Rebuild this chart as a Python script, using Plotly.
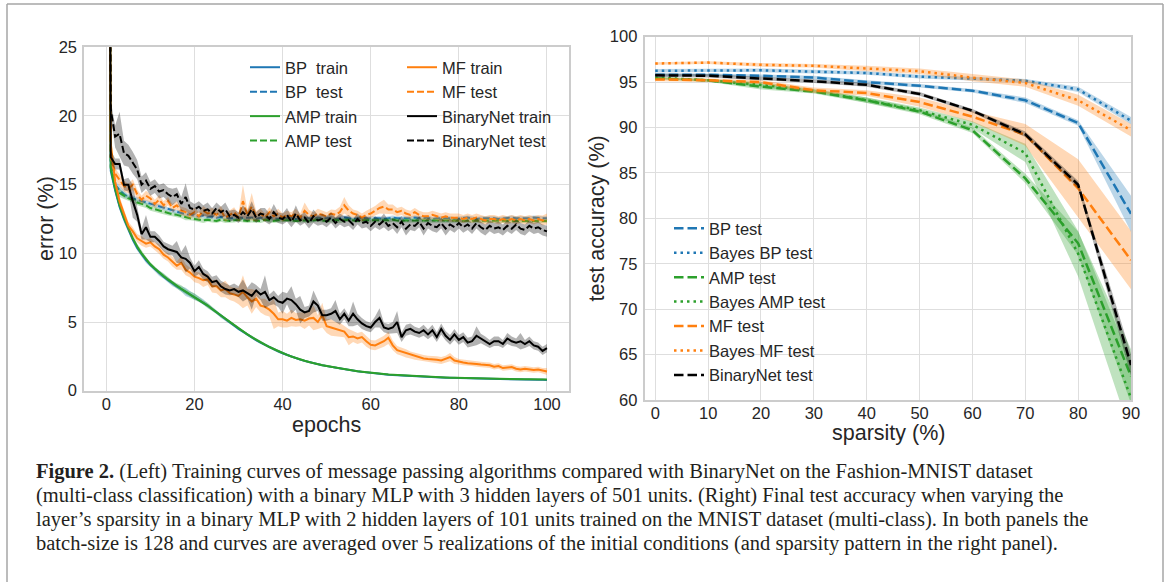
import plotly.graph_objects as go

# ---------------- Left panel data (epochs 0..100) ----------------
epochs = list(range(0, 101))

bp_train = [90.0,
    16.0, 14.6, 13.4, 12.5, 11.7, 11.0, 10.4, 9.9, 9.5, 9.15,
    8.85, 8.55, 8.3, 8.05, 7.8, 7.6, 7.4, 7.2, 7.0, 6.85,
    6.65, 6.45, 6.2, 5.95, 5.7, 5.45, 5.2, 4.95, 4.75, 4.5,
    4.3, 4.08, 3.88, 3.68, 3.5, 3.33, 3.17, 3.02, 2.87, 2.73,
    2.6, 2.48, 2.36, 2.26, 2.17, 2.08, 1.99, 1.92, 1.85, 1.79,
    1.73, 1.67, 1.61, 1.56, 1.5, 1.45, 1.41, 1.37, 1.33, 1.29,
    1.26, 1.23, 1.2, 1.17, 1.15, 1.13, 1.11, 1.09, 1.07, 1.05,
    1.03, 1.02, 1.0, 0.99, 0.97, 0.96, 0.95, 0.94, 0.93, 0.92,
    0.91, 0.9, 0.89, 0.88, 0.88, 0.87, 0.86, 0.85, 0.85, 0.84,
    0.83, 0.83, 0.82, 0.81, 0.81, 0.8, 0.8, 0.79, 0.79, 0.78]
bp_train_sd = [0.5,
    0.3, 0.3, 0.25, 0.25, 0.2, 0.2, 0.2, 0.15, 0.2, 0.15,
    0.15, 0.2, 0.15, 0.15, 0.2, 0.15, 0.2, 0.3, 0.25, 0.2,
    0.15, 0.2, 0.15, 0.15, 0.1, 0.15, 0.1, 0.1, 0.1, 0.1,
    0.1, 0.1, 0.1, 0.1, 0.1, 0.1, 0.1, 0.1, 0.1, 0.1,
    0.08, 0.08, 0.08, 0.08, 0.08, 0.08, 0.08, 0.08, 0.08, 0.08,
    0.06, 0.06, 0.06, 0.06, 0.06, 0.06, 0.06, 0.06, 0.06, 0.06,
    0.05, 0.05, 0.05, 0.05, 0.05, 0.05, 0.05, 0.05, 0.05, 0.05,
    0.05, 0.05, 0.05, 0.05, 0.05, 0.05, 0.05, 0.05, 0.05, 0.05,
    0.04, 0.04, 0.04, 0.04, 0.04, 0.04, 0.04, 0.04, 0.04, 0.04,
    0.04, 0.04, 0.04, 0.04, 0.04, 0.04, 0.04, 0.04, 0.04, 0.04]

amp_train = [90.0,
    16.2, 14.7, 13.5, 12.6, 11.8, 11.1, 10.5, 10.0, 9.6, 9.2,
    8.9, 8.6, 8.35, 8.1, 7.85, 7.62, 7.42, 7.22, 7.02, 6.85,
    6.65, 6.43, 6.2, 5.95, 5.72, 5.47, 5.22, 4.98, 4.76, 4.52,
    4.3, 4.1, 3.9, 3.7, 3.52, 3.35, 3.18, 3.03, 2.88, 2.74,
    2.61, 2.49, 2.37, 2.27, 2.18, 2.09, 2.0, 1.93, 1.86, 1.8,
    1.74, 1.68, 1.62, 1.57, 1.51, 1.46, 1.42, 1.38, 1.34, 1.3,
    1.27, 1.24, 1.21, 1.18, 1.16, 1.14, 1.12, 1.1, 1.08, 1.06,
    1.04, 1.03, 1.01, 1.0, 0.98, 0.97, 0.96, 0.95, 0.94, 0.93,
    0.92, 0.91, 0.9, 0.9, 0.89, 0.88, 0.88, 0.87, 0.86, 0.86,
    0.85, 0.85, 0.84, 0.84, 0.83, 0.83, 0.82, 0.82, 0.81, 0.81]
amp_train_sd = [0.5,
    0.3, 0.3, 0.25, 0.25, 0.2, 0.2, 0.2, 0.2, 0.15, 0.15,
    0.15, 0.15, 0.2, 0.15, 0.15, 0.2, 0.25, 0.2, 0.2, 0.25,
    0.2, 0.15, 0.2, 0.15, 0.15, 0.1, 0.1, 0.1, 0.1, 0.1,
    0.1, 0.1, 0.1, 0.1, 0.1, 0.1, 0.1, 0.1, 0.1, 0.1,
    0.08, 0.08, 0.08, 0.08, 0.08, 0.08, 0.08, 0.08, 0.08, 0.08,
    0.06, 0.06, 0.06, 0.06, 0.06, 0.06, 0.06, 0.06, 0.06, 0.06,
    0.05, 0.05, 0.05, 0.05, 0.05, 0.05, 0.05, 0.05, 0.05, 0.05,
    0.05, 0.05, 0.05, 0.05, 0.05, 0.05, 0.05, 0.05, 0.05, 0.05,
    0.04, 0.04, 0.04, 0.04, 0.04, 0.04, 0.04, 0.04, 0.04, 0.04,
    0.04, 0.04, 0.04, 0.04, 0.04, 0.04, 0.04, 0.04, 0.04, 0.04]

bp_test = [90.0,
    16.5, 15.0, 14.6, 14.3, 14.1, 14.0, 13.9, 13.8, 13.7, 13.6,
    13.5, 13.4, 13.3, 13.2, 13.1, 13.0, 12.95, 12.85, 12.8, 12.75,
    12.7, 12.75, 12.65, 12.7, 12.6, 12.65, 12.6, 12.55, 12.6, 12.6,
    12.6, 12.55, 12.6, 12.5, 12.6, 12.55, 12.6, 12.55, 12.5, 12.6,
    12.55, 12.6, 12.5, 12.55, 12.6, 12.55, 12.5, 12.6, 12.55, 12.55,
    12.6, 12.5, 12.55, 12.6, 12.55, 12.5, 12.55, 12.6, 12.55, 12.55,
    12.6, 12.55, 12.5, 12.55, 12.6, 12.55, 12.55, 12.5, 12.55, 12.6,
    12.55, 12.55, 12.6, 12.5, 12.55, 12.55, 12.6, 12.55, 12.5, 12.55,
    12.55, 12.6, 12.55, 12.5, 12.55, 12.55, 12.6, 12.55, 12.5, 12.55,
    12.55, 12.6, 12.55, 12.55, 12.5, 12.55, 12.6, 12.55, 12.55, 12.55]
bp_test_sd = [0.5,
    0.4, 0.3, 0.3, 0.25, 0.2, 0.2, 0.2, 0.2, 0.2, 0.2,
    0.2, 0.15, 0.15, 0.15, 0.15, 0.15, 0.2, 0.15, 0.15, 0.15,
    0.15, 0.15, 0.2, 0.15, 0.15, 0.15, 0.15, 0.2, 0.15, 0.15,
    0.15, 0.15, 0.15, 0.2, 0.15, 0.15, 0.15, 0.15, 0.15, 0.15,
    0.2, 0.15, 0.15, 0.15, 0.15, 0.15, 0.2, 0.15, 0.15, 0.15,
    0.15, 0.15, 0.15, 0.15, 0.15, 0.15, 0.15, 0.15, 0.15, 0.15,
    0.15, 0.15, 0.15, 0.15, 0.15, 0.15, 0.15, 0.15, 0.15, 0.15,
    0.15, 0.15, 0.15, 0.15, 0.15, 0.15, 0.15, 0.15, 0.15, 0.15,
    0.15, 0.15, 0.15, 0.15, 0.15, 0.15, 0.15, 0.15, 0.15, 0.15,
    0.15, 0.15, 0.15, 0.15, 0.15, 0.15, 0.15, 0.15, 0.15, 0.15]

amp_test = [90.0,
    16.3, 14.8, 14.4, 14.2, 14.0, 13.9, 13.7, 13.6, 13.5, 13.3,
    13.2, 13.1, 13.0, 12.9, 12.85, 12.8, 12.7, 12.6, 12.55, 12.5,
    12.45, 12.4, 12.45, 12.4, 12.35, 12.45, 12.4, 12.35, 12.4, 12.45,
    12.4, 12.35, 12.4, 12.4, 12.35, 12.45, 12.4, 12.35, 12.4, 12.4,
    12.45, 12.4, 12.35, 12.4, 12.4, 12.35, 12.4, 12.45, 12.4, 12.35,
    12.4, 12.4, 12.35, 12.4, 12.45, 12.4, 12.35, 12.4, 12.4, 12.35,
    12.4, 12.4, 12.35, 12.4, 12.45, 12.4, 12.35, 12.4, 12.4, 12.35,
    12.4, 12.35, 12.4, 12.4, 12.35, 12.4, 12.35, 12.4, 12.4, 12.35,
    12.4, 12.35, 12.4, 12.35, 12.4, 12.35, 12.35, 12.4, 12.35, 12.35,
    12.4, 12.35, 12.35, 12.4, 12.35, 12.35, 12.4, 12.35, 12.35, 12.35]
amp_test_sd = [0.5,
    0.4, 0.3, 0.3, 0.25, 0.2, 0.2, 0.2, 0.2, 0.2, 0.2,
    0.2, 0.15, 0.15, 0.15, 0.15, 0.15, 0.15, 0.2, 0.15, 0.15,
    0.15, 0.2, 0.15, 0.15, 0.15, 0.15, 0.2, 0.15, 0.15, 0.15,
    0.15, 0.15, 0.15, 0.15, 0.15, 0.15, 0.15, 0.15, 0.15, 0.15,
    0.15, 0.15, 0.15, 0.15, 0.15, 0.15, 0.15, 0.15, 0.15, 0.15,
    0.15, 0.15, 0.15, 0.15, 0.15, 0.15, 0.15, 0.15, 0.15, 0.15,
    0.15, 0.15, 0.15, 0.15, 0.15, 0.15, 0.15, 0.15, 0.15, 0.15,
    0.15, 0.15, 0.15, 0.15, 0.15, 0.15, 0.15, 0.15, 0.15, 0.15,
    0.15, 0.15, 0.15, 0.15, 0.15, 0.15, 0.15, 0.15, 0.15, 0.15,
    0.15, 0.15, 0.15, 0.15, 0.15, 0.15, 0.15, 0.15, 0.15, 0.15]

mf_train = [90.0,
    18.0, 15.2, 13.8, 12.9, 12.0, 11.6, 11.1, 10.9, 10.7, 10.8,
    10.5, 10.3, 9.9, 9.7, 9.4, 9.1, 9.3, 8.8, 8.6, 8.3,
    8.2, 8.05, 8.1, 7.6, 7.6, 7.3, 7.4, 7.1, 7.0, 6.9,
    7.2, 6.8, 6.5, 6.7, 6.2, 6.1, 5.9, 5.6, 5.2, 5.2,
    5.1, 5.3, 5.15, 5.2, 5.1, 5.25, 5.3, 5.0, 5.5, 4.7,
    4.6, 4.5, 4.45, 4.3, 3.9, 3.95, 3.8, 3.9, 3.6, 3.35,
    3.3, 3.45, 3.6, 3.85, 3.3, 2.95, 2.85, 2.72, 2.6, 2.5,
    2.4, 2.35, 2.3, 2.3, 2.25, 2.2, 2.3, 2.45, 2.2, 2.1,
    2.05, 2.0, 2.0, 1.95, 1.9, 1.87, 1.85, 1.75, 1.8, 1.65,
    1.7, 1.72, 1.6, 1.55, 1.6, 1.55, 1.5, 1.55, 1.45, 1.4]
mf_train_sd = [0.5,
    0.5, 0.4, 0.35, 0.3, 0.3, 0.3, 0.3, 0.35, 0.3, 0.3,
    0.3, 0.35, 0.3, 0.3, 0.35, 0.3, 0.5, 0.4, 0.35, 0.4,
    0.4, 0.5, 0.4, 0.45, 0.5, 0.5, 0.6, 0.5, 0.5, 0.6,
    1.2, 0.6, 0.9, 0.6, 0.5, 0.6, 0.5, 1.1, 0.5, 0.6,
    0.5, 0.6, 0.5, 0.5, 0.6, 0.5, 0.9, 0.5, 0.9, 0.5,
    0.6, 0.5, 0.5, 0.4, 0.6, 0.4, 0.4, 0.4, 0.4, 0.35,
    0.35, 0.35, 0.4, 0.45, 0.35, 0.3, 0.3, 0.3, 0.25, 0.25,
    0.25, 0.25, 0.25, 0.25, 0.25, 0.25, 0.25, 0.3, 0.25, 0.2,
    0.2, 0.2, 0.2, 0.2, 0.2, 0.2, 0.2, 0.2, 0.2, 0.2,
    0.2, 0.2, 0.2, 0.2, 0.2, 0.2, 0.2, 0.2, 0.2, 0.25]

mf_test = [90.0,
    17.0, 15.8, 15.3, 14.9, 14.7, 15.0, 14.3, 13.9, 14.2, 14.0,
    13.6, 13.9, 13.5, 13.8, 13.3, 13.5, 13.1, 13.0, 12.8, 13.0,
    12.7, 13.1, 12.9, 13.0, 12.8, 13.1, 12.6, 12.8, 13.0, 12.6,
    13.8, 12.8, 13.4, 12.7, 12.9, 12.6, 13.0, 12.7, 12.9, 12.6,
    12.8, 12.7, 12.9, 12.6, 13.1, 12.8, 12.7, 12.9, 12.8, 12.7,
    12.9, 12.8, 13.0, 13.5, 13.1, 12.9, 12.8, 12.6, 12.8, 12.9,
    13.1, 13.3, 13.4, 13.2, 13.2, 13.0, 13.1, 12.9, 12.8, 13.0,
    12.8, 12.7, 12.7, 12.8, 12.7, 12.6, 12.7, 12.6, 12.6, 12.6,
    12.5, 12.6, 12.5, 12.6, 12.5, 12.4, 12.5, 12.5, 12.4, 12.5,
    12.4, 12.5, 12.4, 12.5, 12.4, 12.5, 12.4, 12.5, 12.4, 12.5]
mf_test_sd = [0.5,
    0.5, 0.4, 0.4, 0.4, 0.35, 0.4, 0.35, 0.3, 0.35, 0.3,
    0.3, 0.35, 0.3, 0.3, 0.3, 0.3, 0.3, 0.3, 0.3, 0.3,
    0.3, 0.35, 0.3, 0.3, 0.3, 0.35, 0.3, 0.3, 0.35, 0.3,
    1.2, 0.4, 1.0, 0.4, 0.35, 0.3, 0.35, 0.3, 0.35, 0.3,
    0.3, 0.3, 0.35, 0.3, 0.6, 0.35, 0.3, 0.35, 0.3, 0.3,
    0.3, 0.35, 0.4, 0.6, 0.4, 0.3, 0.3, 0.3, 0.3, 0.35,
    0.35, 0.4, 0.5, 0.35, 0.35, 0.3, 0.3, 0.3, 0.3, 0.3,
    0.3, 0.3, 0.3, 0.3, 0.3, 0.3, 0.3, 0.3, 0.3, 0.3,
    0.3, 0.3, 0.3, 0.3, 0.3, 0.3, 0.3, 0.3, 0.3, 0.3,
    0.3, 0.3, 0.3, 0.3, 0.3, 0.3, 0.3, 0.3, 0.35, 0.4]

bn_train = [90.0,
    17.0, 16.5, 16.5, 15.0, 15.0, 13.8, 12.8, 11.4, 11.9, 11.2,
    11.2, 10.9, 10.5, 10.3, 10.2, 10.1, 9.7, 9.6, 9.3, 8.7,
    9.0, 8.5, 8.3, 7.9, 8.0, 7.6, 7.4, 7.3, 7.4, 7.2,
    7.3, 7.1, 6.9, 7.3, 7.0, 7.2, 6.6, 6.8, 6.5, 6.4,
    6.7, 6.6, 6.3, 5.9, 5.7, 5.8, 6.5, 6.2, 5.5, 5.5,
    5.6, 5.8, 5.2, 5.6, 5.1, 5.6, 5.2, 4.9, 4.7, 4.6,
    5.0, 5.3, 4.6, 4.5, 4.6, 5.0, 3.9, 4.4, 4.5, 4.3,
    4.2, 4.4, 4.1, 4.4, 3.9, 4.5, 4.0, 3.7, 4.1, 3.7,
    3.9, 3.5, 3.6, 4.0, 3.8, 3.6, 3.4, 3.6, 3.6, 3.4,
    3.8, 3.6, 3.5, 3.6, 3.4, 3.6, 3.3, 3.2, 2.9, 3.1]
bn_train_sd = [0.5,
    0.5, 0.4, 0.4, 0.4, 0.5, 1.2, 0.5, 0.4, 0.9, 0.4,
    0.4, 0.4, 0.35, 0.4, 0.35, 0.8, 0.4, 1.0, 0.4, 0.4,
    0.5, 0.4, 0.4, 0.4, 0.4, 0.4, 0.4, 0.35, 0.4, 0.4,
    0.8, 0.4, 1.0, 0.4, 0.4, 1.2, 0.4, 0.5, 0.4, 0.8,
    0.4, 1.0, 0.4, 1.0, 0.4, 0.4, 0.8, 0.4, 0.4, 0.4,
    0.4, 0.8, 0.4, 0.4, 0.4, 0.9, 0.4, 0.4, 0.35, 0.35,
    0.4, 0.7, 0.35, 0.35, 0.4, 0.8, 0.35, 0.4, 0.4, 0.35,
    0.35, 0.4, 0.35, 0.4, 0.35, 0.4, 0.35, 0.35, 0.4, 0.35,
    0.35, 0.35, 0.35, 0.7, 0.35, 0.35, 0.3, 0.35, 0.35, 0.3,
    0.4, 0.35, 0.3, 0.6, 0.3, 0.35, 0.3, 0.3, 0.3, 0.3]

bn_test = [90.0,
    20.5, 18.5, 18.7, 17.3, 17.1, 16.6, 16.1, 15.0, 15.3, 14.7,
    14.9, 14.5, 14.6, 14.3, 14.1, 14.3, 13.6, 14.1, 13.3, 13.2,
    13.4, 13.1, 13.2, 12.9, 13.3, 13.0, 13.2, 12.7, 12.8, 12.6,
    13.0, 12.7, 13.2, 12.6, 12.9, 12.8, 12.5, 13.0, 12.6, 12.5,
    12.8, 12.3, 12.9, 12.4, 12.6, 12.2, 12.7, 12.4, 12.5, 12.3,
    12.6, 12.2, 12.5, 12.3, 12.4, 12.1, 12.5, 12.2, 12.3, 12.0,
    12.3, 12.1, 12.4, 12.0, 12.2, 11.9, 12.3, 11.8, 12.1, 12.0,
    12.3, 11.8, 12.2, 12.0, 11.9, 12.2, 11.8, 12.1, 11.9, 12.2,
    11.9, 12.1, 11.8, 12.2, 11.9, 11.7, 12.0, 11.8, 11.9, 11.7,
    12.0, 11.8, 12.1, 11.8, 11.7, 12.0, 11.8, 11.9, 11.7, 11.6]
bn_test_sd = [0.5,
    0.6, 0.8, 1.6, 0.9, 0.8, 0.8, 0.7, 0.6, 0.6, 0.5,
    0.5, 0.5, 0.5, 0.5, 0.6, 0.5, 0.5, 1.0, 0.5, 0.4,
    0.4, 0.4, 0.5, 0.4, 0.4, 0.4, 0.5, 0.4, 0.4, 0.4,
    0.5, 0.4, 0.6, 0.4, 0.4, 0.5, 0.4, 0.6, 0.4, 0.4,
    0.5, 0.4, 0.6, 0.4, 0.4, 0.4, 0.5, 0.4, 0.4, 0.4,
    0.4, 0.4, 0.4, 0.4, 0.4, 0.4, 0.4, 0.4, 0.4, 0.4,
    0.4, 0.4, 0.5, 0.4, 0.4, 0.5, 0.4, 0.5, 0.4, 0.4,
    0.4, 0.5, 0.4, 0.4, 0.4, 0.4, 0.5, 0.4, 0.4, 0.4,
    0.4, 0.4, 0.4, 0.4, 0.4, 0.4, 0.4, 0.4, 0.4, 0.4,
    0.4, 0.4, 0.4, 0.4, 0.4, 0.4, 0.4, 0.4, 0.4, 0.4]

# ---------------- Right panel data ----------------
sparsity = [0, 10, 20, 30, 40, 50, 60, 70, 80, 90]
r_bp = [95.8, 95.8, 95.7, 95.5, 95.0, 94.6, 94.05, 93.0, 90.5, 80.5]
r_bp_sd = [0.15, 0.15, 0.15, 0.2, 0.2, 0.2, 0.2, 0.3, 0.3, 2.0]
r_bayes_bp = [96.25, 96.3, 96.3, 96.15, 96.0, 95.6, 95.4, 95.15, 94.2, 90.75]
r_bayes_bp_sd = [0.2, 0.2, 0.2, 0.2, 0.2, 0.2, 0.2, 0.2, 0.3, 0.4]
r_amp = [95.4, 95.2, 94.5, 93.95, 93.0, 91.75, 89.7, 84.4, 77.25, 62.6]
r_amp_sd = [0.1, 0.15, 0.3, 0.2, 0.3, 0.3, 0.3, 0.5, 1.3, 3.0]
r_bayes_amp = [95.5, 95.2, 94.7, 94.05, 93.0, 91.9, 90.3, 87.2, 76.1, 60.2]
r_bayes_amp_sd = [0.1, 0.15, 0.3, 0.2, 0.3, 0.3, 0.4, 1.0, 2.5, 4.0]
r_mf = [95.3, 95.2, 95.0, 94.1, 93.8, 92.8, 91.2, 89.2, 83.3, 75.4]
r_mf_sd = [0.2, 0.2, 0.2, 0.3, 0.3, 0.5, 0.6, 1.2, 3.2, 3.2]
r_bayes_mf = [97.05, 97.15, 96.9, 96.8, 96.5, 96.2, 95.5, 94.9, 93.0, 89.7]
r_bayes_mf_sd = [0.15, 0.15, 0.2, 0.2, 0.3, 0.3, 0.4, 0.4, 0.6, 0.7]
r_bn = [95.75, 95.7, 95.4, 95.1, 94.7, 93.7, 91.85, 89.25, 83.7, 63.85]
r_bn_sd = [0.2, 0.2, 0.2, 0.2, 0.2, 0.2, 0.2, 0.3, 0.4, 1.2]

caption_lines = [
    "<b>Figure 2.</b> (Left) Training curves of message passing algorithms compared with BinaryNet on the Fashion-MNIST dataset",
    "(multi-class classification) with a binary MLP with 3 hidden layers of 501 units. (Right) Final test accuracy when varying the",
    "layer\u2019s sparsity in a binary MLP with 2 hidden layers of 101 units trained on the MNIST dataset (multi-class). In both panels the",
    "batch-size is 128 and curves are averaged over 5 realizations of the initial conditions (and sparsity pattern in the right panel).",
]

# ---------------- Styles ----------------
BLUE, ORANGE, GREEN, BLACK = "#1f77b4", "#ff7f0e", "#2ca02c", "#000000"
FILLS = {BLUE: "rgba(31,119,180,0.3)", ORANGE: "rgba(255,127,14,0.3)",
         GREEN: "rgba(44,160,44,0.3)", BLACK: "rgba(0,0,0,0.3)"}
SANS = "Liberation Sans, Arial, sans-serif"
TXT = "#262626"
W = 1170.0
H = 582.0

fig = go.Figure()


def add_series(x, y, sd, color, dash, width, name, xa, ya, legend, group):
    upper = [a + b for a, b in zip(y, sd)]
    lower = [a - b for a, b in zip(y, sd)]
    fig.add_trace(go.Scatter(
        x=list(x) + list(x)[::-1], y=upper + lower[::-1], fill="toself",
        fillcolor=FILLS[color], line=dict(width=0), mode="lines",
        hoverinfo="skip", showlegend=False, xaxis=xa, yaxis=ya))
    fig.add_trace(go.Scatter(
        x=x, y=y, mode="lines", name=name,
        line=dict(color=color, width=width, dash=dash),
        xaxis=xa, yaxis=ya, legend=legend, legendgroup=group))


LD = "7px,3px"
add_series(epochs, bp_train, bp_train_sd, BLUE, "solid", 2, "BP  train", "x", "y", "legend", "a1")
add_series(epochs, bp_test, bp_test_sd, BLUE, LD, 2, "BP  test", "x", "y", "legend", "a2")
add_series(epochs, amp_train, amp_train_sd, GREEN, "solid", 2, "AMP train", "x", "y", "legend", "a3")
add_series(epochs, amp_test, amp_test_sd, GREEN, LD, 2, "AMP test", "x", "y", "legend", "a4")
add_series(epochs, mf_train, mf_train_sd, ORANGE, "solid", 2, "MF train", "x", "y", "legend2", "b1")
add_series(epochs, mf_test, mf_test_sd, ORANGE, LD, 2, "MF test", "x", "y", "legend2", "b2")
add_series(epochs, bn_train, bn_train_sd, BLACK, "solid", 2, "BinaryNet train", "x", "y", "legend2", "b3")
add_series(epochs, bn_test, bn_test_sd, BLACK, LD, 2, "BinaryNet test", "x", "y", "legend2", "b4")

RD = "9.5px,4px"
RDOT = "2.5px,4px"
add_series(sparsity, r_bp, r_bp_sd, BLUE, RD, 2.5, "BP test", "x2", "y2", "legend3", "c1")
add_series(sparsity, r_bayes_bp, r_bayes_bp_sd, BLUE, RDOT, 2.5, "Bayes BP test", "x2", "y2", "legend3", "c2")
add_series(sparsity, r_amp, r_amp_sd, GREEN, RD, 2.5, "AMP test", "x2", "y2", "legend3", "c3")
add_series(sparsity, r_bayes_amp, r_bayes_amp_sd, GREEN, RDOT, 2.5, "Bayes AMP test", "x2", "y2", "legend3", "c4")
add_series(sparsity, r_mf, r_mf_sd, ORANGE, RD, 2.5, "MF test", "x2", "y2", "legend3", "c5")
add_series(sparsity, r_bayes_mf, r_bayes_mf_sd, ORANGE, RDOT, 2.5, "Bayes MF test", "x2", "y2", "legend3", "c6")
add_series(sparsity, r_bn, r_bn_sd, BLACK, RD, 2.5, "BinaryNet test", "x2", "y2", "legend3", "c7")

axis_common = dict(showgrid=True, gridcolor="#dedede", gridwidth=1.3, zeroline=False,
                   showline=True, mirror=True, linecolor="#cccccc", linewidth=2,
                   ticks="", automargin=False, tickfont=dict(family=SANS, size=16.5, color=TXT))

leg_common = dict(xanchor="left", yanchor="top", bgcolor="rgba(0,0,0,0)",
                  traceorder="grouped", tracegroupgap=0,
                  font=dict(family=SANS, size=16.5, color=TXT))

fig.update_layout(
    width=1170, height=582, autosize=False, margin=dict(l=0, r=0, t=0, b=0, pad=0),
    paper_bgcolor="white", plot_bgcolor="white",
    xaxis=dict(domain=[84.3 / W, 569 / W], range=[-5, 105], tickvals=[0, 20, 40, 60, 80, 100],
               anchor="y", ticklabelstandoff=-3, **axis_common),
    yaxis=dict(domain=[1 - 390.7 / H, 1 - 47.3 / H], range=[0, 25], tickvals=[0, 5, 10, 15, 20, 25],
               anchor="x", ticklabelstandoff=2, **axis_common),
    xaxis2=dict(domain=[644.7 / W, 1131 / W], range=[-2, 90], tickvals=sparsity,
                anchor="y2", ticklabelstandoff=-3, **axis_common),
    yaxis2=dict(domain=[1 - 400 / H, 1 - 36.7 / H], range=[60, 100],
                tickvals=[60, 65, 70, 75, 80, 85, 90, 95, 100],
                anchor="x2", ticklabelstandoff=2, **axis_common),
    legend=dict(x=245 / W, y=1 - 50 / H, **leg_common),
    legend2=dict(x=402 / W, y=1 - 50 / H, **leg_common),
    legend3=dict(x=669 / W, y=1 - 211 / H, **leg_common),
    showlegend=True,
)

ann = [
    dict(text="error (%)", x=46 / W, y=1 - 219 / H, textangle=-90, font=dict(size=21.5)),
    dict(text="epochs", x=326.6 / W, y=1 - 425 / H, font=dict(size=21.5)),
    dict(text="test accuracy (%)", x=597 / W, y=1 - 218.4 / H, textangle=-90, font=dict(size=21.5)),
    dict(text="sparsity (%)", x=888 / W, y=1 - 433 / H, font=dict(size=21.5)),
]
for a in ann:
    a["font"].update(family=SANS, color=TXT)
    fig.add_annotation(xref="paper", yref="paper", showarrow=False,
                       xanchor="center", yanchor="middle", **a)

cap_y = [471, 495, 519, 543]
for t, yy in zip(caption_lines, cap_y):
    fig.add_annotation(text=t, xref="paper", yref="paper", x=34 / W, y=1 - yy / H,
                       xanchor="left", yanchor="middle", showarrow=False,
                       font=dict(family="Liberation Serif, Times New Roman, serif", size=20.5, color="#231f20"))

# figure frame (left, top, right edges)
for x0, y0, x1, y1 in [(7, 4, 7, 582), (7, 4, 1163, 4), (1163, 4, 1163, 582)]:
    fig.add_shape(type="line", xref="paper", yref="paper",
                  x0=x0 / W, y0=1 - y0 / H, x1=x1 / W, y1=1 - y1 / H,
                  line=dict(color="#a6a6a6", width=1.5))

fig.write_html("out.html", config={"displayModeBar": False},
               post_script="document.body.style.margin='0px';")
